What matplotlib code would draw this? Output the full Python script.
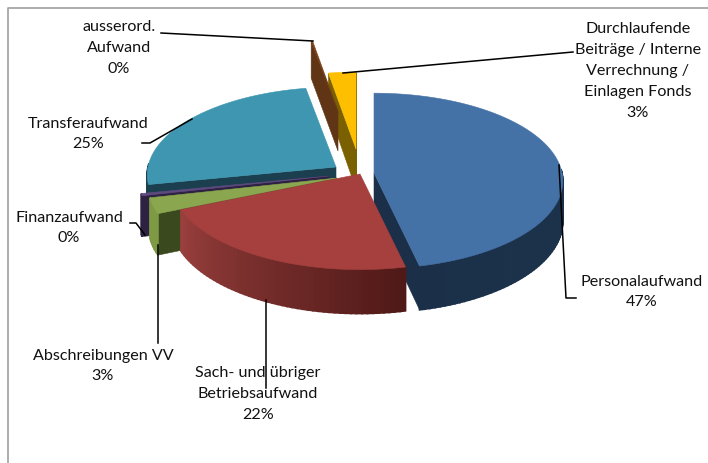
import numpy as np
import matplotlib
matplotlib.use('Agg')
import matplotlib.pyplot as plt
from matplotlib.colors import to_rgb
from matplotlib.patches import Polygon

# Daten (Anteile in %), im Uhrzeigersinn ab 12 Uhr
kategorien = ['Personalaufwand', 'Sach- und übriger\nBetriebsaufwand', 'Abschreibungen VV',
              'Finanzaufwand', 'Transferaufwand', 'ausserord.\nAufwand',
              'Durchlaufende\nBeiträge / Interne\nVerrechnung /\nEinlagen Fonds']
anteile = [46.5, 22.1, 2.9, 0.4, 25.4, 0.15, 2.65]
prozent_text = ['47%', '22%', '3%', '0%', '25%', '0%', '3%']

# Farben: Oberseite, Aussenwand links/rechts, Schnittwand
farbe_oben = ['#4471a6', '#a5403e', '#8aa64e', '#5f4a80', '#3f96b0', '#7a4015', '#fdbf00']
farbe_wand_a = ['#1b3048', '#9a403e', '#7f9a45', '#2e2243', '#1b3f4e', '#5f3516', '#7a6000']
farbe_wand_b = ['#1e3652', '#4f1917', '#7f9a45', '#2e2243', '#1b3f4e', '#5f3516', '#7a6000']
farbe_schnitt = ['#1b3048', '#541b19', '#3b4a1e', '#2e2243', '#1b3f4e', '#5f3516', '#7a6000']

# Layout in Pixeln
spitzen = [(374, 173), (360, 174), (337, 178), (329, 176), (336, 167), (338, 111), (356, 149)]
radien = [1, 1, 1, 1, 1, 0.88, 0.96]
zeichenfolge = [0, 6, 5, 4, 3, 2, 1]
RX, RY, TIEFE, PERSPEKTIVE = 188, 87, 40, 0.09

label_pos = [(642, 292), (258, 394), (103, 366), (69, 228), (88, 134), (119, 48), (638, 71)]
leader = [[(559, 165), (566, 298), (576, 298)],
          [(266, 300), (266, 388)],
          [(158, 245), (158, 343)],
          [(130, 223), (136, 223), (145, 235)],
          [(142, 143), (150, 143), (192, 119)],
          [(161, 33), (313, 41)],
          [(343, 73), (573, 52)]]

plt.rcParams['font.family'] = ['Lato', 'DejaVu Sans']

fig = plt.figure(figsize=(7.08, 4.63), dpi=100)
ax = fig.add_axes([0, 0, 1, 1])
ax.set_xlim(0, 708)
ax.set_ylim(463, 0)
ax.axis('off')


def projektion(spitze, winkel, r=1.0, h=0.0):
    # winkel in Grad ab 12 Uhr im Uhrzeigersinn, perspektivische Verkuerzung nach hinten
    a = np.radians(winkel)
    u = r * np.sin(a)
    v = -r * np.cos(a)
    s = 1 / (1 - PERSPEKTIVE * v)
    return np.column_stack([spitze[0] + RX * u * s, spitze[1] + (RY * v + h) * s])


def flaeche(punkte, farbe, z, lw=0.4):
    ax.add_patch(Polygon(punkte, closed=True, facecolor=farbe, edgecolor=farbe, lw=lw, zorder=z))


def stueck(start, ende, spitze, radius, oben, wand_a, wand_b, schnitt, z):
    # Schnittwaende, soweit zum Betrachter gerichtet
    for w, sichtbar in ((start, np.sin(np.radians(start)) < 0), (ende, np.sin(np.radians(ende)) > 0)):
        if sichtbar:
            flaeche(np.vstack([projektion(spitze, w, radius, 0), projektion(spitze, w, 0, 0),
                               projektion(spitze, w, 0, TIEFE), projektion(spitze, w, radius, TIEFE)]), schnitt, z)
    # Aussenwand in kleinen Segmenten mit Farbverlauf
    winkel = np.linspace(start, ende, max(int((ende - start) / 1.5), 2) + 1)
    for w0, w1 in zip(winkel[:-1], winkel[1:]):
        if np.cos(np.radians((w0 + w1) / 2)) < 0.05:
            t = (ende - w0) / (ende - start)
            c = tuple((1 - t) * np.array(to_rgb(wand_a)) + t * np.array(to_rgb(wand_b)))
            w = np.array([w0, w1])
            flaeche(np.vstack([projektion(spitze, w, radius, 0), projektion(spitze, w[::-1], radius, TIEFE)]), c, z, lw=1.2)
    # Oberseite
    flaeche(np.vstack([projektion(spitze, winkel, radius, 0), projektion(spitze, np.array([ende]), 0, 0)]), oben, z + 0.5)


grad = np.array(anteile) / sum(anteile) * 360
grenzen = np.concatenate([[0], np.cumsum(grad)])
for rang, i in enumerate(zeichenfolge):
    stueck(grenzen[i], grenzen[i + 1], spitzen[i], radien[i], farbe_oben[i], farbe_wand_a[i],
           farbe_wand_b[i], farbe_schnitt[i], 2 + rang)

# Rahmen
ax.plot([8, 8, 708], [463, 8, 8], color='#a0a0a0', lw=1.2, zorder=1)

# Beschriftungen mit Fuehrungslinien
for i, name in enumerate(kategorien):
    ax.text(label_pos[i][0], label_pos[i][1], name + '\n' + prozent_text[i], ha='center', va='center',
            fontsize=11.6, linespacing=1.62, color='#111111', zorder=20)
    xs, ys = zip(*leader[i])
    ax.plot(xs, ys, color='black', lw=1.1, zorder=15)

fig.savefig('out.png', dpi=100)
